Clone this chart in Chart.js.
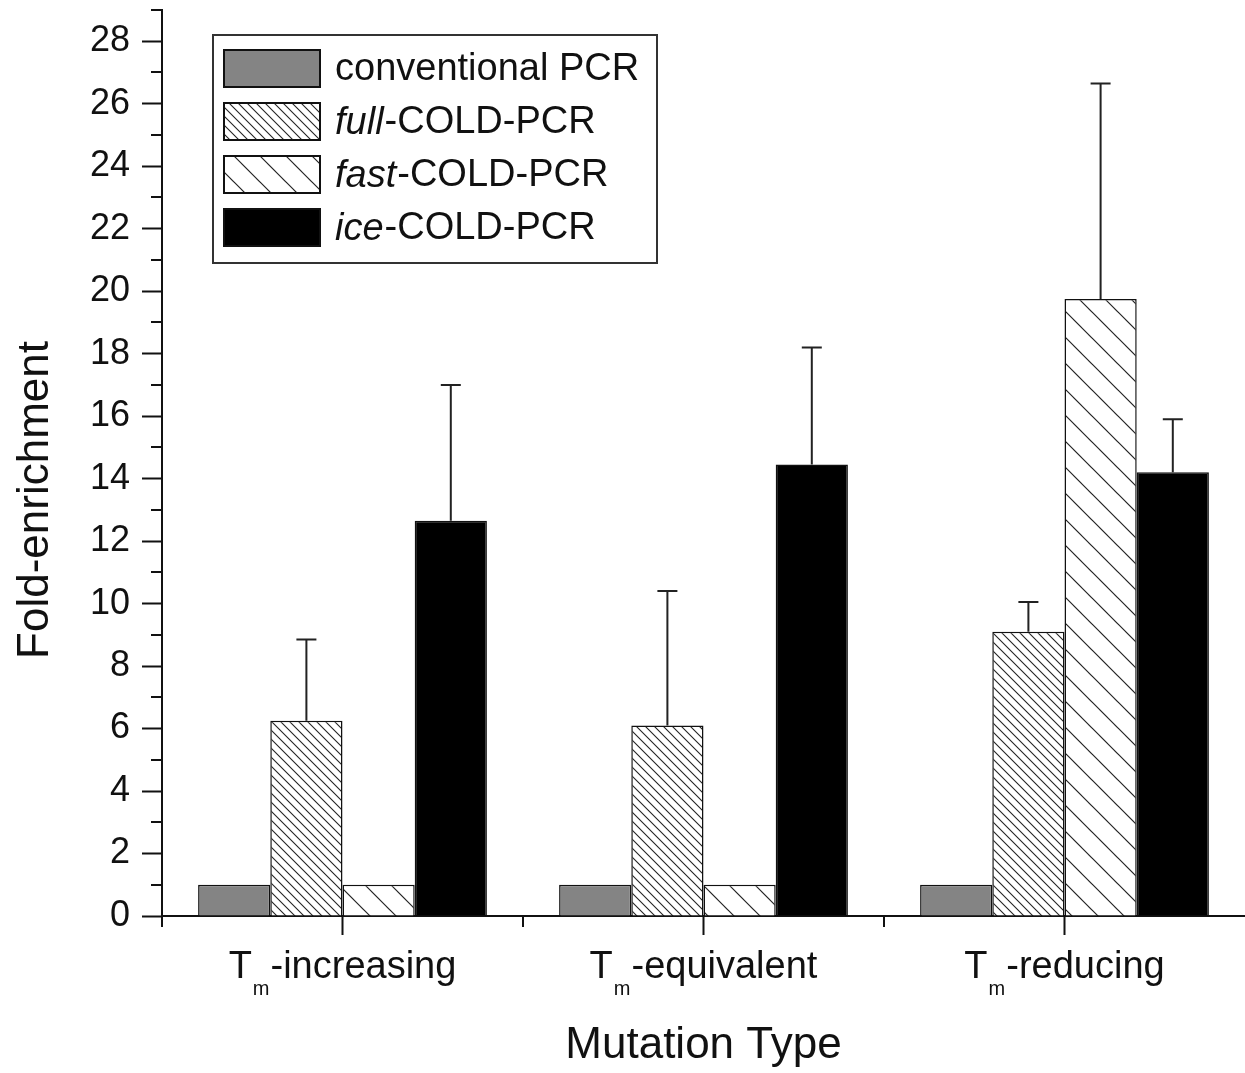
<!DOCTYPE html>
<html>
<head>
<meta charset="utf-8">
<script src="https://cdn.jsdelivr.net/npm/chart.js@4/dist/chart.umd.min.js"></script>
<style>
  body { margin: 0; background: #fff; }
  canvas { display: block; }
</style>
</head>
<body>
<canvas id="myChart" width="1245" height="1073"></canvas>
<script>
// data
const categories = ['Tm-increasing', 'Tm-equivalent', 'Tm-reducing'];
const seriesNames = ['conventional PCR', 'full-COLD-PCR', 'fast-COLD-PCR', 'ice-COLD-PCR'];
const conventional = [1, 1, 1];
const full = [6.25, 6.1, 9.1];
const fast = [1, 1, 19.75];
const ice = [12.65, 14.45, 14.2];
// upper error bar lengths
const conventionalErr = [0, 0, 0];
const fullErr = [2.6, 4.3, 0.95];
const fastErr = [0, 0, 6.9];
const iceErr = [4.35, 3.75, 1.7];
const yTicks = [0, 2, 4, 6, 8, 10, 12, 14, 16, 18, 20, 22, 24, 26, 28];

const FONT = '"Liberation Sans", Arial, sans-serif';

// hatch pattern: "\" lines, p = horizontal spacing
const hatch = (p, lw) => {
  const c = document.createElement('canvas');
  c.width = p; c.height = p;
  const g = c.getContext('2d');
  g.fillStyle = '#fff';
  g.fillRect(0, 0, p, p);
  g.strokeStyle = '#222';
  g.lineWidth = lw;
  for (let k = -1; k <= 1; k++) {
    g.beginPath();
    g.moveTo(-p, -p + k * p);
    g.lineTo(2 * p, 2 * p + k * p);
    g.stroke();
  }
  return document.getElementById('myChart').getContext('2d').createPattern(c, 'repeat');
};

const fills = ['#848484', hatch(9, 1.1), hatch(26, 1.2), '#000'];
const errs = [conventionalErr, fullErr, fastErr, iceErr];
const values = [conventional, full, fast, ice];

const extras = {
  id: 'extras',
  afterDatasetsDraw(chart) {
    const ctx = chart.ctx;
    const y = chart.scales.y;
    const x = chart.scales.x;
    ctx.save();
    // error bars (upper only)
    ctx.strokeStyle = '#222';
    ctx.lineWidth = 2;
    errs.forEach((err, i) => {
      const meta = chart.getDatasetMeta(i);
      meta.data.forEach((bar, j) => {
        if (!err[j]) return;
        const top = y.getPixelForValue(values[i][j] + err[j]);
        ctx.beginPath();
        ctx.moveTo(bar.x, bar.y);
        ctx.lineTo(bar.x, top);
        ctx.moveTo(bar.x - 10, top);
        ctx.lineTo(bar.x + 10, top);
        ctx.stroke();
      });
    });

    // y minor ticks
    ctx.strokeStyle = '#111';
    ctx.lineWidth = 2;
    for (let v = 1; v <= 29; v += 2) {
      const py = Math.round(y.getPixelForValue(v));
      ctx.beginPath();
      ctx.moveTo(y.right - 11, py);
      ctx.lineTo(y.right, py);
      ctx.stroke();
    }

    // x ticks: long at centres, short at boundaries
    const bottom = chart.chartArea.bottom;
    const half = (x.getPixelForValue(1) - x.getPixelForValue(0)) / 2;
    categories.forEach((c, i) => {
      const px = x.getPixelForValue(i);
      ctx.beginPath();
      ctx.moveTo(px, bottom);
      ctx.lineTo(px, bottom + 19);
      ctx.moveTo(px - half, bottom);
      ctx.lineTo(px - half, bottom + 11);
      ctx.stroke();
    });

    // x labels with subscript m
    ctx.fillStyle = '#111';
    ctx.textBaseline = 'alphabetic';
    ctx.textAlign = 'left';
    categories.forEach((c, i) => {
      const px = x.getPixelForValue(i);
      const big = '38px ' + FONT, small = '20px ' + FONT;
      ctx.font = big;
      const wT = ctx.measureText(c[0]).width;
      const wRest = ctx.measureText(c.slice(2)).width;
      ctx.font = small;
      const wm = ctx.measureText(c[1]).width + 2;
      let sx = px - (wT + wm + wRest) / 2;
      ctx.font = big;
      ctx.fillText(c[0], sx, 978);
      ctx.font = small;
      ctx.fillText(c[1], sx + wT + 1, 995);
      ctx.font = big;
      ctx.fillText(c.slice(2), sx + wT + wm, 978);
    });

    // axis titles
    ctx.font = '44px ' + FONT;
    ctx.textAlign = 'center';
    ctx.textBaseline = 'middle';
    ctx.fillText('Mutation Type', (chart.chartArea.left + chart.chartArea.right) / 2, 1046);
    ctx.save();
    ctx.translate(36, 500);
    ctx.rotate(-Math.PI / 2);
    ctx.font = '44px ' + FONT;
    ctx.fillText('Fold-enrichment', 0, 0);
    ctx.restore();

    // legend
    ctx.fillStyle = '#fff';
    ctx.fillRect(213, 35, 444, 228);
    ctx.strokeStyle = '#333';
    ctx.lineWidth = 2;
    ctx.strokeRect(213, 35, 444, 228);
    const rowTops = [50, 103, 156, 209];
    seriesNames.forEach((name, i) => {
      const top = rowTops[i];
      ctx.fillStyle = fills[i];
      ctx.fillRect(224, top, 96, 37);
      ctx.strokeStyle = '#111';
      ctx.lineWidth = 2;
      ctx.strokeRect(224, top, 96, 37);
      ctx.fillStyle = '#111';
      ctx.textAlign = 'left';
      ctx.textBaseline = 'middle';
      const cy = top + 20;
      const dash = name.indexOf('-');
      let tx = 335;
      if (dash > 0) {
        ctx.font = 'italic 38px ' + FONT;
        const it = name.slice(0, dash);
        ctx.fillText(it, tx, cy);
        tx += ctx.measureText(it).width + 1;
        ctx.font = '38px ' + FONT;
        ctx.fillText(name.slice(dash), tx, cy);
      } else {
        ctx.font = '38px ' + FONT;
        ctx.fillText(name, tx, cy);
      }
    });
    ctx.restore();
  }
};

const ctx = document.getElementById('myChart');

new Chart(ctx, {
  type: 'bar',
  data: {
    labels: categories,
    datasets: seriesNames.map((name, i) => ({
      label: name,
      data: values[i],
      backgroundColor: fills[i],
      borderColor: '#111',
      borderWidth: 1.5,
      categoryPercentage: 0.8,
      barPercentage: 1
    }))
  },
  options: {
    responsive: false,
    animation: false,
    layout: { padding: { top: 10, right: 0, left: 0, bottom: 0 } },
    plugins: {
      legend: { display: false },
      tooltip: { enabled: false }
    },
    scales: {
      x: {
        offset: true,
        grid: { display: false },
        border: { display: true, color: '#111', width: 2 },
        ticks: { display: false },
        afterFit: s => { s.height = 157; }
      },
      y: {
        min: 0,
        max: 29,
        afterBuildTicks: s => { s.ticks = yTicks.map(v => ({ value: v })); },
        ticks: {
          color: '#111',
          font: { size: 36, family: FONT },
          padding: 12
        },
        grid: {
          drawOnChartArea: false,
          drawTicks: true,
          tickLength: 20,
          tickColor: '#111',
          tickWidth: 2
        },
        border: { display: true, color: '#111', width: 2 },
        afterFit: s => { s.width = 162; s.paddingTop = 0; s.paddingBottom = 0; }
      }
    }
  },
  plugins: [extras]
});
</script>
</body>
</html>
